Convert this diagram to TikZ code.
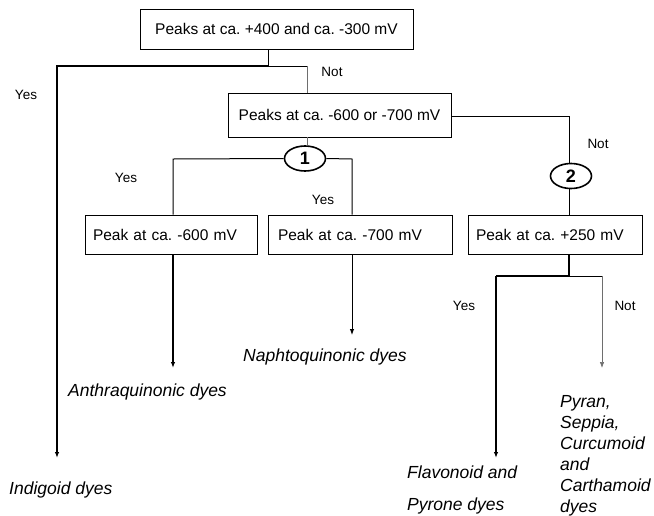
\documentclass[tikz,border=0pt]{standalone}
\usepackage{fontspec}
\setmainfont{Liberation Sans}
\usepackage{tikz}
\usetikzlibrary{arrows.meta,shapes.geometric,calc}
\definecolor{notgray}{RGB}{110,110,110}
\frenchspacing

\begin{document}
\begin{tikzpicture}[x=1pt,y=-1pt,>={Latex[length=6pt,width=4.5pt]},
    testbox/.style={draw,line width=0.8pt,inner sep=0pt,
        font=\fontsize{15.5}{18}\selectfont},
    stepmark/.style={draw,ellipse,line width=1.6pt,inner sep=0pt,
        minimum width=41pt,minimum height=25pt,font=\fontsize{18}{20}\selectfont\bfseries},
    answer/.style={font=\fontsize{13.5}{16}\selectfont},
    dyes/.style={anchor=west,inner sep=0pt,align=left,font=\fontsize{17.5}{21}\selectfont\itshape},
    yesline/.style={line width=1.5pt},
    linkline/.style={line width=1pt},
    notline/.style={line width=0.7pt,notgray}]
    \useasboundingbox (0,0) rectangle (654,515);

    % Tests
    \node[testbox,minimum width=273pt,minimum height=40pt] (top) at (276.5,29) {Peaks at ca. +400 and ca. -300 mV};
    \node[testbox,minimum width=223pt,minimum height=44pt] (redox) at (339.5,115) {Peaks at ca. -600 or -700 mV};
    \node[testbox,minimum width=172pt,minimum height=39pt,text width=156pt] (p600) at (171,234.5) {Peak at ca. -600 mV};
    \node[testbox,minimum width=184pt,minimum height=39pt,text width=164pt] (p700) at (360,234.5) {Peak at ca. -700 mV};
    \node[testbox,minimum width=174pt,minimum height=39pt,text width=158pt] (p250) at (555,234.5) {Peak at ca. +250 mV};

    % Branch marks
    \node[stepmark] (one) at (305,158.5) {1};
    \node[stepmark] (two) at (571,176) {2};

    % Junctions
    \coordinate (j1) at (268,66);
    \coordinate (j2) at (307,66);
    \coordinate (jyes) at (57,66);
    \coordinate (jleft) at (173,159);
    \coordinate (jright) at (352,159);
    \coordinate (jnot) at (569,116);
    \coordinate (j5) at (569,276);
    \coordinate (jflav) at (496,276);
    \coordinate (jpyran) at (602,276);

    % Arrow ends
    \coordinate (eindigo) at (57,458);
    \coordinate (eanthra) at (173,368);
    \coordinate (enaphto) at (352,335);
    \coordinate (eflav) at (496,458);
    \coordinate (epyran) at (602,368);

    % Connectors
    \draw[linkline] (top.south -| j1) -- (j1);
    \draw[yesline,->] (j1) -- (jyes) -- (eindigo);
    \draw[linkline] (j1) -- (j2);
    \draw[notline] (j2) -- (redox.north -| j2);
    \draw[notline] (redox.south -| j2) -- (one.north -| j2);
    \draw[linkline] (one.west) -- (jleft) -- (p600.north -| jleft);
    \draw[linkline] (one.east) -- (jright) -- (p700.north -| jright);
    \draw[linkline] (redox.east |- jnot) -- (jnot) -- (two.north -| jnot);
    \draw[linkline] (two.south -| jnot) -- (p250.north -| jnot);
    \draw[yesline,->] (p600.south -| jleft) -- (eanthra);
    \draw[linkline,->] (p700.south -| jright) -- (enaphto);
    \draw[yesline] (p250.south -| j5) -- (j5) -- (jflav);
    \draw[yesline,->] (jflav) -- (eflav);
    \draw[linkline] (j5) -- (jpyran);
    \draw[notline,->] (jpyran) -- (epyran);

    % Answers
    \node[answer] (a1) at (26,95) {Yes};
    \node[answer] (a2) at (332,72) {Not};
    \node[answer] (a3) at (126,178) {Yes};
    \node[answer] (a4) at (323,200) {Yes};
    \node[answer] (a5) at (598,144) {Not};
    \node[answer] (a6) at (464,306) {Yes};
    \node[answer] (a7) at (625,306) {Not};

    % Dye classes
    \node[dyes] (indigo) at (9,490) {Indigoid dyes};
    \node[dyes] (anthra) at (68,392) {Anthraquinonic dyes};
    \node[dyes] (naphto) at (243,357) {Naphtoquinonic dyes};
    \node[dyes,font=\fontsize{17.5}{32}\selectfont\itshape] (flav) at (407,490) {Flavonoid and\\Pyrone dyes};
    \node[dyes] (pyran) at (560,456) {Pyran,\\Seppia,\\Curcumoid\\and\\Carthamoid\\dyes};
\end{tikzpicture}
\end{document}
